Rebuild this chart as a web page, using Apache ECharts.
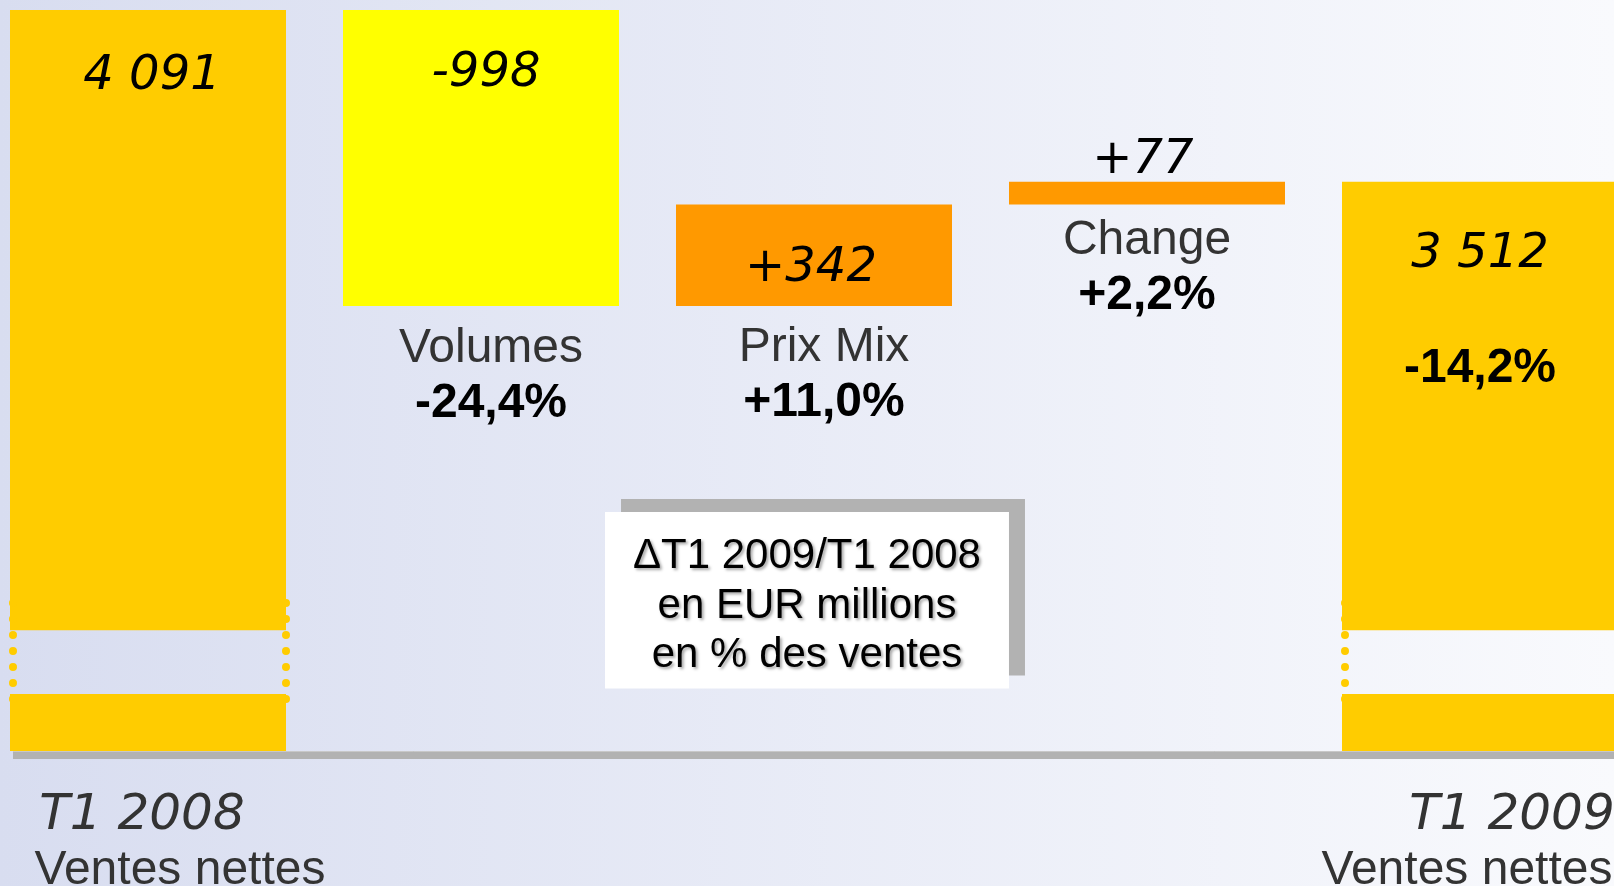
<!DOCTYPE html>
<html><head><meta charset="utf-8">
<script src="https://cdn.jsdelivr.net/npm/echarts@6/dist/echarts.min.js"></script>
<style>
html,body{margin:0;padding:0;}
body{width:1614px;height:886px;overflow:hidden;background:linear-gradient(to right,#D8DDF0,#F9FAFD);}
#chart{width:1614px;height:886px;}
</style></head><body><div id="chart"></div>
<script>
// ---- data ----
const categories = ['T1 2008', 'Volumes', 'Prix Mix', 'Change', 'T1 2009'];
const xTopLabels = ['T1 2008', '', '', '', 'T1 2009'];
const xBottomLabels = ['Ventes nettes', '', '', '', 'Ventes nettes'];
const startTotal = 4091;
const deltaNames = ['Volumes', 'Prix Mix', 'Change'];
const deltas = [-998, 342, 77];
const deltaPct = [-24.4, 11.0, 2.2];
const endTotal = 3512;
const totalPct = -14.2;
const boxLines = ['\u0394T1 2009/T1 2008', 'en EUR millions', 'en % des ventes'];

// ---- layout constants (broken value axis) ----
const AXIS_MIN = 1593;
const BREAK_LO = 1785, BREAK_HI = 2000;
const DOT_LO = 1765, DOT_HI = 2092;
const BAR_W = 276;

const C_TOTAL = '#FFCC00';
const deltaColors = ['#FFFF00', '#FF9900', '#FF9900'];

const fmtThousands = v => String(v).replace(/\B(?=(\d{3})+(?!\d))/g, ' ');
const fmtDelta = d => (d > 0 ? '+' : '') + d;
const fmtPct = p => (p > 0 ? '+' : '') + p.toFixed(1).replace('.', ',') + '%';

const n = categories.length;
const totalIdx = [0, n - 1];
const totals = [startTotal, endTotal];

const totalLow = new Array(n).fill('-');
const baseArr = new Array(n).fill('-');
const gapArr = new Array(n).fill('-');
const deltaArr = new Array(n).fill('-');
const totalHigh = new Array(n).fill('-');

const VAL = {fontFamily: 'DejaVu Sans', fontStyle: 'italic', fontSize: 48, color: '#000'};
const NAME = {fontFamily: 'Liberation Sans', fontSize: 48, color: '#333', lineHeight: 55};
const PCT = {fontFamily: 'Liberation Sans', fontSize: 48, fontWeight: 'bold', color: '#000', lineHeight: 55};

totalIdx.forEach((ci, k) => {
  totalLow[ci] = {value: BREAK_LO};
  gapArr[ci] = {value: BREAK_HI - BREAK_LO};
  const isEnd = k === 1;
  totalHigh[ci] = {
    value: totals[k] - BREAK_HI,
    label: {
      show: true, position: 'insideTop', distance: isEnd ? 44.5 : 39, offset: [isEnd ? 0 : 4, 0],
      formatter: isEnd
        ? '{v|' + fmtThousands(totals[k]) + '}\n{s| }\n{p|' + fmtPct(totalPct) + '}'
        : '{v|' + fmtThousands(totals[k]) + '}',
      rich: {v: Object.assign({}, VAL, {lineHeight: 56}), s: {fontSize: 10, lineHeight: 58.5}, p: Object.assign({}, PCT, {lineHeight: 56})}
    }
  };
});

let run = startTotal;
const nameDist = [15.5, 14.5, 9];
const nameShift = [10, 10, 0];
const valShift = [5, -3, -4];
deltas.forEach((d, i) => {
  const ci = i + 1;
  const base = d < 0 ? run + d : run;
  run += d;
  baseArr[ci] = {
    value: base,
    label: {
      show: true, position: 'insideTop', distance: nameDist[i], offset: [nameShift[i], 0],
      formatter: '{n|' + deltaNames[i] + '}\n{p|' + fmtPct(deltaPct[i]) + '}',
      rich: {n: NAME, p: PCT}
    }
  };
  const onTop = i === 2;
  deltaArr[ci] = {
    value: Math.abs(d),
    itemStyle: {color: deltaColors[i]},
    label: {
      show: true, position: onTop ? 'top' : 'insideTop', distance: onTop ? -2 : 40.5, offset: [valShift[i], 0],
      formatter: fmtDelta(d),
      ...VAL, lineHeight: 46
    }
  };
});

const TOP_L = {fontFamily: 'DejaVu Sans', fontStyle: 'italic', fontSize: 50, color: '#333', lineHeight: 60};
const BOT_L = {fontFamily: 'Liberation Sans', fontSize: 48, color: '#333', lineHeight: 50};

const chart = echarts.init(document.getElementById('chart'), null, {renderer: 'canvas'});
chart.setOption({
  backgroundColor: 'transparent',
  animation: false,
  title: {
    text: boxLines.join('\n'),
    left: 'center', top: 512,
    padding: [20, 28, 8, 28],
    backgroundColor: '#fff',
    shadowColor: '#B2B2B2', shadowBlur: 0, shadowOffsetX: 16, shadowOffsetY: -13,
    textStyle: {
      fontFamily: 'Liberation Sans', fontSize: 42, fontWeight: 'normal', color: '#000', lineHeight: 49.5,
      textShadowColor: 'rgba(0,0,0,0.35)', textShadowBlur: 3, textShadowOffsetX: 2, textShadowOffsetY: 2
    }
  },
  grid: {left: -18.5, right: -32.5, top: 10, bottom: 135, containLabel: false, outerBoundsMode: 'none'},
  xAxis: {
    type: 'category', data: categories, offset: 4,
    axisLine: {show: false},
    axisTick: {show: false},
    axisLabel: {
      interval: 0, margin: 31,
      formatter: (val, idx) => xTopLabels[idx] ? '{t' + idx + '|' + xTopLabels[idx] + '}\n{b' + idx + '|' + xBottomLabels[idx] + '}' : '',
      rich: {
        t0: Object.assign({}, TOP_L, {padding: [0, 12, 0, 0]}),
        b0: Object.assign({}, BOT_L, {padding: [0, 0, 0, 64]}),
        t4: Object.assign({}, TOP_L, {padding: [0, 0, 0, 64]}),
        b4: Object.assign({}, BOT_L, {padding: [0, 26, 0, 0]})
      }
    }
  },
  yAxis: {type: 'value', show: false, min: AXIS_MIN, max: Math.max(startTotal, endTotal), splitLine: {show: false}},
  series: [
    {name: 'totalLow', type: 'bar', stack: 'w', barWidth: BAR_W, data: totalLow, itemStyle: {color: C_TOTAL}, silent: true},
    {name: 'base', type: 'bar', stack: 'w', barWidth: BAR_W, data: baseArr, itemStyle: {color: 'rgba(0,0,0,0)'}, silent: true},
    {name: 'gap', type: 'bar', stack: 'w', barWidth: BAR_W, data: gapArr, itemStyle: {color: 'rgba(0,0,0,0)'}, silent: true},
    {name: 'delta', type: 'bar', stack: 'w', barWidth: BAR_W, data: deltaArr, silent: true},
    {name: 'totalHigh', type: 'bar', stack: 'w', barWidth: BAR_W, data: totalHigh, itemStyle: {color: C_TOTAL}, silent: true},
    {
      name: 'baseline', type: 'custom', silent: true, z: 1, clip: false,
      data: [[0, AXIS_MIN]],
      encode: {x: 0, y: 1},
      renderItem: (params, api) => {
        const p = api.coord([api.value(0), api.value(1)]);
        const cs = params.coordSys;
        const y = p[1] + 4;
        return {
          type: 'group',
          children: [
            {type: 'line', shape: {x1: p[0] - BAR_W / 2 + 3, y1: y, x2: cs.x + cs.width, y2: y}, style: {stroke: '#B2B2B2', lineWidth: 8}},
            {type: 'line', shape: {x1: p[0] - BAR_W / 2 + 3, y1: y - 3.5, x2: cs.x + cs.width, y2: y - 3.5}, style: {stroke: '#C8C8C8', lineWidth: 1}}
          ]
        };
      }
    },
    {
      name: 'breakDots', type: 'custom', silent: true, z: 5,
      data: totalIdx.map(ci => [ci, DOT_LO, DOT_HI]),
      encode: {x: 0, y: [1, 2]},
      renderItem: (params, api) => {
        const ci = api.value(0);
        const top = api.coord([ci, api.value(2)]);
        const bot = api.coord([ci, api.value(1)]);
        const half = BAR_W / 2;
        const style = {stroke: C_TOTAL, lineWidth: 8, lineCap: 'round', lineDash: [0.001, 16], fill: null};
        return {
          type: 'group',
          children: [
            {type: 'line', shape: {x1: top[0] - half + 3, y1: top[1], x2: bot[0] - half + 3, y2: bot[1]}, style: style},
            {type: 'line', shape: {x1: top[0] + half, y1: top[1], x2: bot[0] + half, y2: bot[1]}, style: style}
          ]
        };
      }
    }
  ]
});
</script></body></html>
